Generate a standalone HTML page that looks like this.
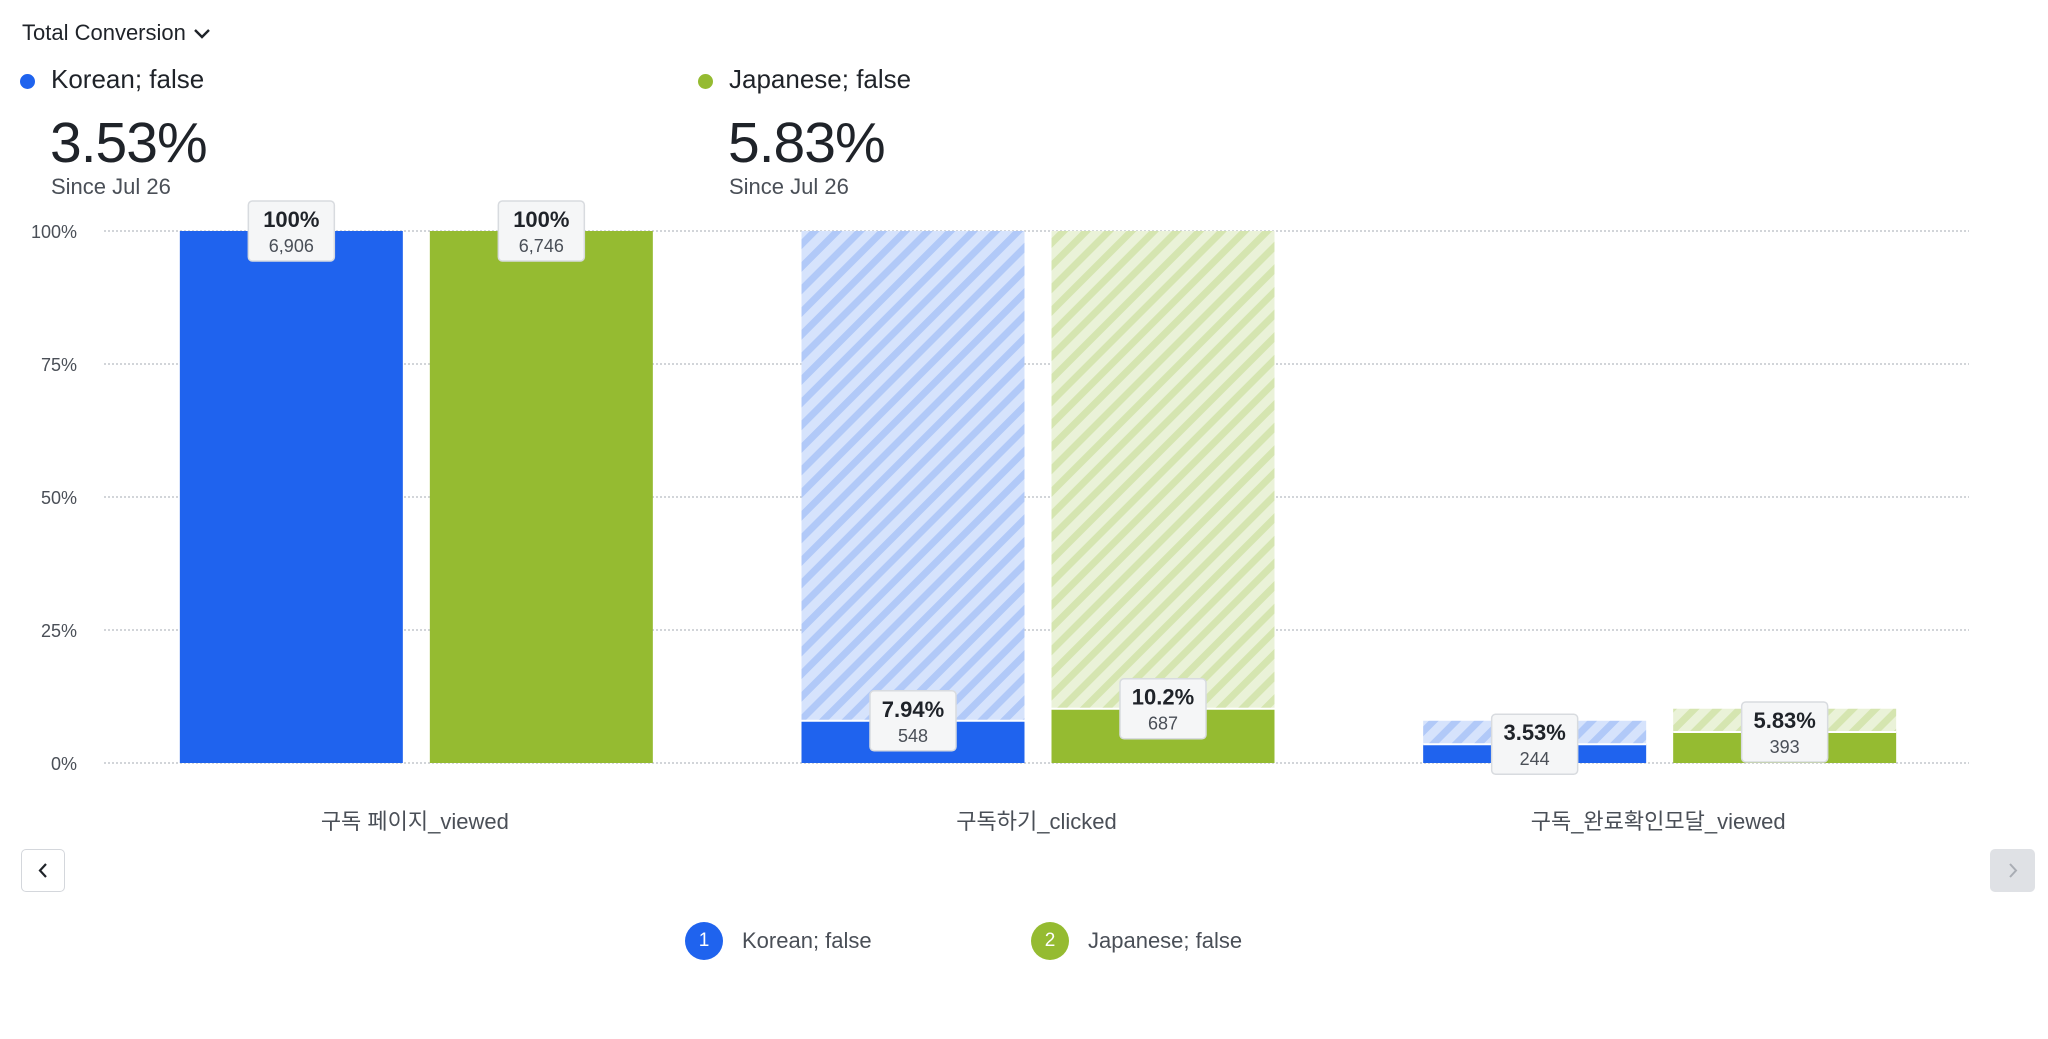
<!DOCTYPE html>
<html><head><meta charset="utf-8"><style>
body{margin:0;width:2048px;height:1039px;background:#fff;overflow:hidden;font-family:"Liberation Sans","Noto Sans CJK KR",sans-serif;color:#1f2329}
.abs{position:absolute}
</style></head><body>
<div class="abs" style="left:22px;top:20px;font-size:22px;">Total Conversion <svg width="20" height="14" style="vertical-align:middle"><path d="M3 3 L10 10 L17 3" stroke="#1f2329" stroke-width="2.4" fill="none"/></svg></div>
<div class="abs" style="left:20px;top:64px;">
 <span class="abs" style="left:0;top:10px;width:15px;height:15px;border-radius:50%;background:#1f63ee"></span>
 <span class="abs" style="left:31px;top:0;font-size:26px;white-space:nowrap">Korean;&nbsp;false</span>
 <span class="abs" style="left:30px;top:46px;font-size:57px;white-space:nowrap;letter-spacing:-1px">3.53%</span>
 <span class="abs" style="left:31px;top:110px;font-size:22px;color:#4a4f57;white-space:nowrap">Since Jul 26</span>
</div>
<div class="abs" style="left:698px;top:64px;">
 <span class="abs" style="left:0;top:10px;width:15px;height:15px;border-radius:50%;background:#95bb31"></span>
 <span class="abs" style="left:31px;top:0;font-size:26px;white-space:nowrap">Japanese;&nbsp;false</span>
 <span class="abs" style="left:30px;top:46px;font-size:57px;white-space:nowrap;letter-spacing:-1px">5.83%</span>
 <span class="abs" style="left:31px;top:110px;font-size:22px;color:#4a4f57;white-space:nowrap">Since Jul 26</span>
</div>
<svg id="chart" class="abs" style="left:0;top:0" width="2048" height="1039">
<defs>
<pattern id="hb" width="16" height="16" patternUnits="userSpaceOnUse" patternTransform="rotate(45)"><rect width="16" height="16" fill="#d6e3fc"/><rect width="7" height="16" fill="#b1c9f8"/></pattern>
<pattern id="hg" width="16" height="16" patternUnits="userSpaceOnUse" patternTransform="rotate(45)"><rect width="16" height="16" fill="#eaf2d8"/><rect width="7" height="16" fill="#d5e5b0"/></pattern>
</defs>
</svg>
<div class="abs" style="left:21px;top:849px;width:42px;height:41px;border:1px solid #d4d7dc;border-radius:5px;background:#fff"><svg width="42" height="41"><path d="M24 14 L18 20.5 L24 27" stroke="#1f2329" stroke-width="2.2" fill="none"/></svg></div>
<div class="abs" style="left:1990px;top:849px;width:45px;height:43px;border-radius:5px;background:#dfe1e5"><svg width="45" height="43"><path d="M20 15 L26 21.5 L20 28" stroke="#a9adb4" stroke-width="2" fill="none"/></svg></div>
<div class="abs" style="left:0;top:922px;width:2048px;height:40px">
 <div class="abs" style="left:685px;top:0">
  <span class="abs" style="left:0;top:0;width:38px;height:38px;border-radius:50%;background:#1f63ee;color:#fff;font-size:19px;line-height:38px;text-align:center">1</span>
  <span class="abs" style="left:57px;top:6px;font-size:22px;color:#4a4f57;white-space:nowrap">Korean; false</span>
 </div>
 <div class="abs" style="left:1031px;top:0">
  <span class="abs" style="left:0;top:0;width:38px;height:38px;border-radius:50%;background:#95bb31;color:#fff;font-size:19px;line-height:38px;text-align:center">2</span>
  <span class="abs" style="left:57px;top:6px;font-size:22px;color:#4a4f57;white-space:nowrap">Japanese; false</span>
 </div>
</div>
<script>
const categories=["구독 페이지_viewed","구독하기_clicked","구독_완료확인모달_viewed"];
const koreanPct=[100,7.94,3.53];
const koreanCount=["6,906","548","244"];
const japanesePct=[100,10.2,5.83];
const japaneseCount=["6,746","687","393"];
const tickValues=[0,25,50,75,100];
const tickLabels=["0%","25%","50%","75%","100%"];
const NS="http://www.w3.org/2000/svg";
const svg=document.getElementById('chart');
const X0=104,X1=1969,Y0=763,Y100=231;
const bw=(X1-X0)/categories.length;
function y(v){return Y0-(Y0-Y100)*v/100;}
function mk(t,a){const e=document.createElementNS(NS,t);for(const k in a)e.setAttribute(k,a[k]);svg.appendChild(e);return e;}
tickValues.forEach((v,i)=>{
 const l=mk('line',{x1:X0,x2:X1,y1:y(v),y2:y(v),stroke:'#b8bcc2','stroke-dasharray':'2 2','stroke-width':1.3});
 
 
 const t=mk('text',{x:77,y:y(v)+7,'text-anchor':'end','font-size':18,fill:'#4a4f57'});
 t.textContent=tickLabels[i];
 
 
});
const series=[{pct:koreanPct,cnt:koreanCount,c:'#1f63ee',h:'url(#hb)',off:-124},{pct:japanesePct,cnt:japaneseCount,c:'#95bb31',h:'url(#hg)',off:126}];
const tips=[];
categories.forEach((cat,i)=>{
 const cx=X0+bw*(i+0.5);
 series.forEach((s,si)=>{
  const left=cx+s.off-111, w=223;
  if(i>0){
   const prev=s.pct[i-1];
   const hb=mk('rect',{x:left,y:y(prev),width:w,height:y(s.pct[i])-y(prev),fill:s.h});
   
   
  }
  const b=mk('rect',{x:left,y:y(s.pct[i]),width:w,height:Y0-y(s.pct[i]),fill:s.c});
  
  
  if(i>0){mk('line',{x1:left,x2:left+w,y1:y(s.pct[i]),y2:y(s.pct[i]),stroke:'#fff','stroke-width':2});}
  tips.push([left+w/2,y(s.pct[i]),s.pct[i]+'%',s.cnt[i]]);
 });
 const t=mk('text',{x:cx,y:829,'text-anchor':'middle','font-size':22,fill:'#4a4f57'});
 t.textContent=cat;
 
 
});
tips.forEach(([x,yy,p,c])=>{
 const r=mk('rect',{x:x-43,y:yy-30,width:86,height:60,rx:4,fill:'#f5f6f7',stroke:'#d8dbdf','stroke-width':1.5});
 
 
 const a=mk('text',{x:x,y:yy-4,'text-anchor':'middle','font-size':22,'font-weight':'bold',fill:'#1f2329'});a.textContent=p;
 const b=mk('text',{x:x,y:yy+21,'text-anchor':'middle','font-size':18,fill:'#4a4f57'});b.textContent=c;
});
</script>
</body></html>
